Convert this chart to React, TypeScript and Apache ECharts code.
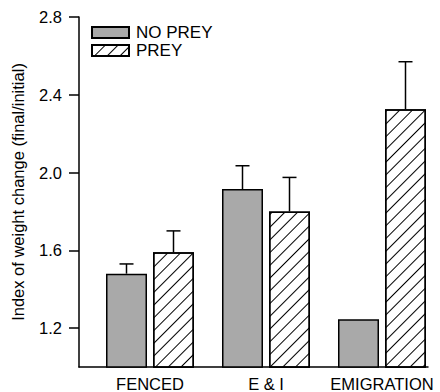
import React, { useEffect, useRef } from "react";
import * as echarts from "echarts";

const categories = ["FENCED", "E & I", "EMIGRATION"];
const seriesNames = ["NO PREY", "PREY"];
const noPreyMeans = [1.48, 1.915, 1.245];
const noPreyErrors = [0.05, 0.12, 0];
const preyMeans = [1.59, 1.8, 2.325];
const preyErrors = [0.11, 0.175, 0.245];
const yTicks = [1.2, 1.6, 2.0, 2.4, 2.8];
const yTitle = "Index of weight change (final/initial)";

const FONT = "'Liberation Sans', Arial, Helvetica, sans-serif";
const BAR_W = 41;
const BAR_GAP = 6;

export default function App() {
  const ref = useRef<HTMLDivElement>(null);
  useEffect(() => {
    if (!ref.current) return;
    const chart = echarts.init(ref.current, null, { renderer: "svg" });

    const errSeries = (means: number[], errs: number[], offset: number) => ({
      type: "custom",
      xAxisIndex: 0,
      yAxisIndex: 0,
      silent: true,
      z: 5,
      data: means.map((m, i) => [i, m, errs[i]]),
      renderItem: (params: any, api: any) => {
        const err = api.value(2);
        if (!err) return null;
        const c = api.value(0);
        const m = api.value(1);
        const base = api.coord([c, m]);
        const top = api.coord([c, m + err]);
        const x = base[0] + offset;
        const style = { stroke: "#000", lineWidth: 1.5 };
        return {
          type: "group",
          children: [
            { type: "line", shape: { x1: x, y1: base[1], x2: x, y2: top[1] }, style },
            { type: "line", shape: { x1: x - 7, y1: top[1], x2: x + 7, y2: top[1] }, style },
          ],
        };
      },
    });

    const off = BAR_W / 2 + BAR_GAP / 2;

    chart.setOption({
      animation: false,
      backgroundColor: "#fff",
      textStyle: { fontFamily: FONT },
      legend: {
        orient: "vertical",
        left: 86,
        top: 19,
        icon: "rect",
        itemWidth: 37,
        itemHeight: 11,
        itemGap: 1,
        data: seriesNames,
        textStyle: { fontSize: 17, color: "#000", fontFamily: FONT, lineHeight: 16, padding: [0, 0, 0, 2] },
      },
      grid: [
        { left: 92, right: 0, top: 17, bottom: 25 },
        { left: 79, right: 12, top: 17, bottom: 25 },
      ],
      xAxis: [
        {
          type: "category",
          gridIndex: 0,
          data: categories,
          axisLine: { show: false },
          axisTick: { show: false },
          axisLabel: { interval: 0, color: "#000", fontSize: 16.5, margin: 8, fontFamily: FONT },
        },
        {
          type: "value",
          gridIndex: 1,
          min: 0,
          max: 1,
          axisLine: { show: true, onZero: false, lineStyle: { color: "#000", width: 1.5 } },
          axisTick: { show: false },
          axisLabel: { show: false },
          splitLine: { show: false },
        },
      ],
      yAxis: [
        {
          type: "value",
          gridIndex: 0,
          min: 1.0,
          max: 2.8,
          offset: 13,
          name: yTitle,
          nameLocation: "middle",
          nameGap: 53,
          nameTextStyle: { fontSize: 16.5, color: "#000", fontFamily: FONT },
          axisLine: { show: true, lineStyle: { color: "#000", width: 1.5 } },
          axisTick: { show: true, length: 10, customValues: yTicks, lineStyle: { color: "#000", width: 1.5 } },
          axisLabel: {
            customValues: yTicks,
            margin: 17,
            fontSize: 16.5,
            color: "#000",
            fontFamily: FONT,
            formatter: (v: number) => v.toFixed(1),
          },
          splitLine: { show: false },
        },
        {
          type: "value",
          gridIndex: 1,
          show: false,
          min: 0,
          max: 1,
        },
      ],
      series: [
        {
          name: seriesNames[0],
          type: "bar",
          xAxisIndex: 0,
          yAxisIndex: 0,
          barWidth: BAR_W,
          barGap: (BAR_GAP / BAR_W) * 100 + "%",
          data: noPreyMeans,
          itemStyle: { color: "#a9a9a9", borderColor: "#000", borderWidth: 1.5 },
        },
        {
          name: seriesNames[1],
          type: "bar",
          xAxisIndex: 0,
          yAxisIndex: 0,
          barWidth: BAR_W,
          data: preyMeans,
          itemStyle: {
            color: "#fff",
            borderColor: "#000",
            borderWidth: 1.5,
            decal: {
              symbol: "rect",
              symbolSize: 1,
              dashArrayX: [[1, 0]],
              dashArrayY: [1, 8],
              rotation: -Math.PI / 4,
              color: "#000",
            },
          },
        },
        errSeries(noPreyMeans, noPreyErrors, -off),
        errSeries(preyMeans, preyErrors, off),
      ],
    });
    return () => chart.dispose();
  }, []);
  return <div ref={ref} style={{ width: 440, height: 392, position: "absolute", left: 0, top: 0 }} />;
}
